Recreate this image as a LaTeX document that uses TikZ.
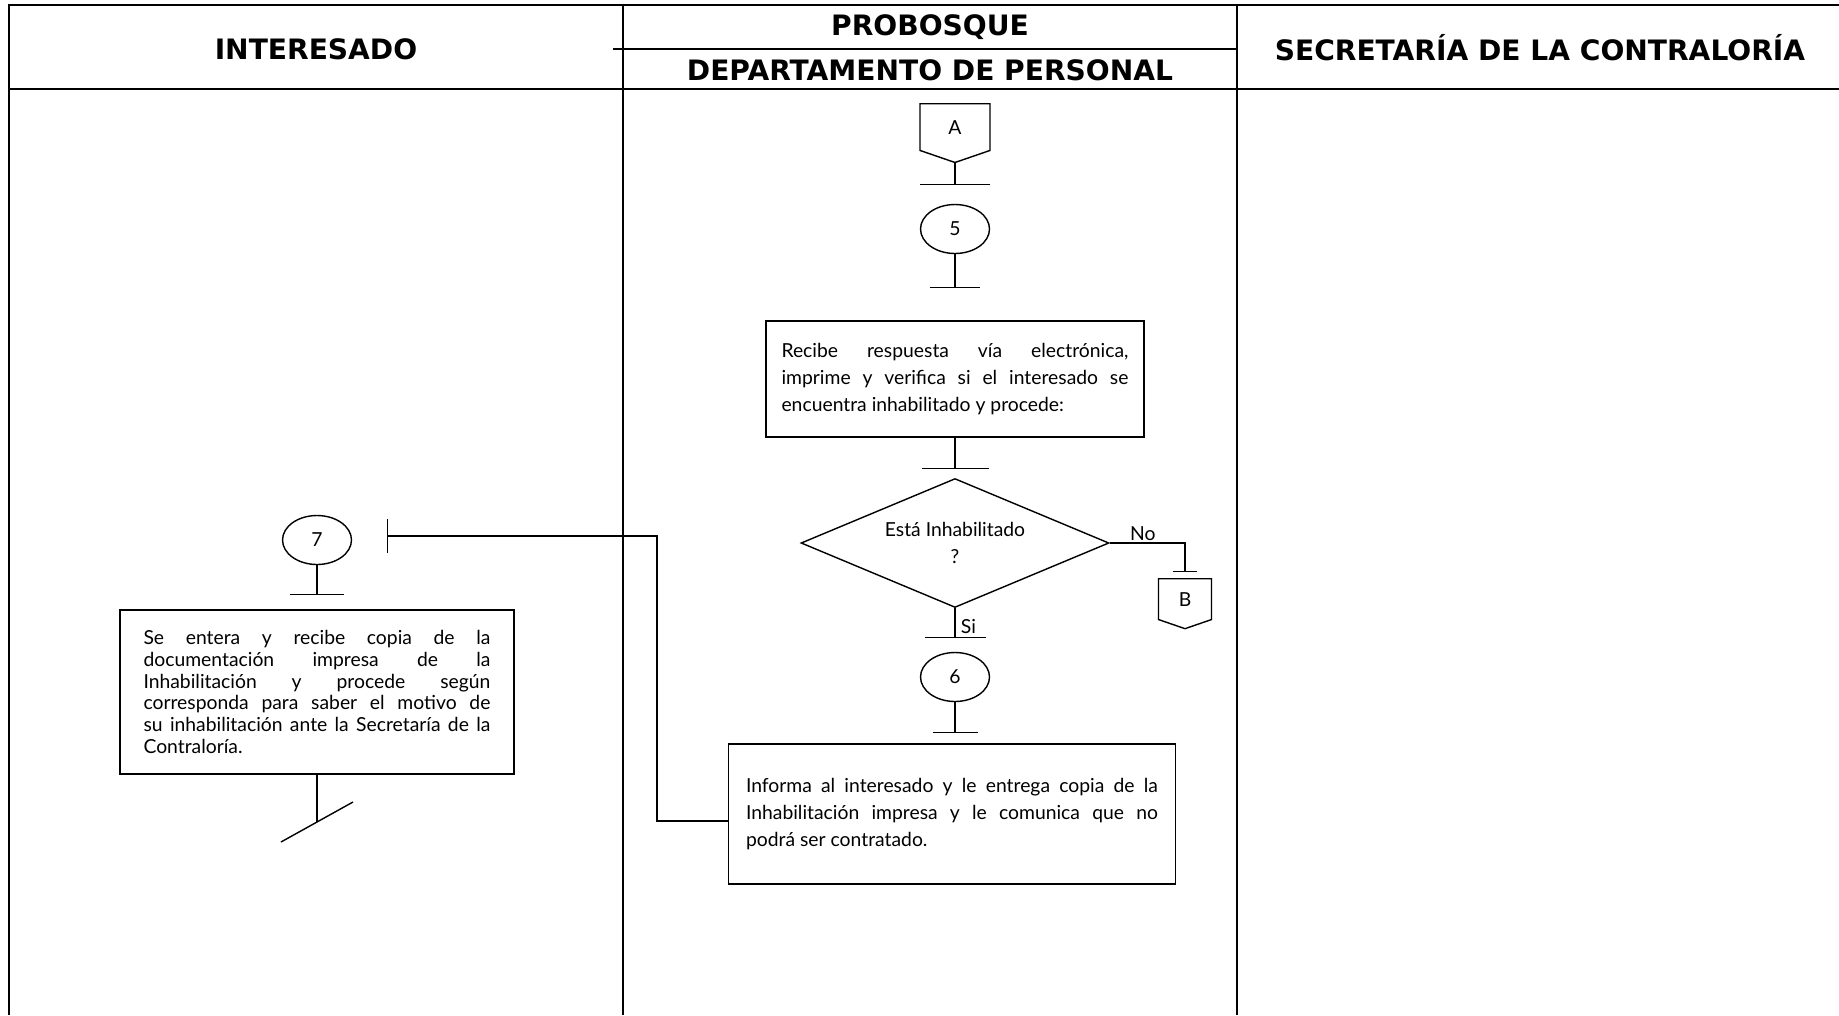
\documentclass[tikz,border=0pt]{standalone}
\usepackage{fontspec}
\setmainfont{Lato}
\newfontfamily\headfont{DejaVu Sans}
\usetikzlibrary{shapes.geometric, shapes.symbols, arrows.meta, positioning, calc}
\tikzset{
    font=\fontsize{11}{15.5}\selectfont,
    % Lines
    lane/.style={line width=1.3pt, black},
    flow/.style={line width=0.8pt, black},
    tbar/.style={flow, -{Bar[width=#1, line width=0.8pt]}},
    tbar/.default=1.2cm,
    % Shapes
    proc/.style={rectangle, draw, line width=0.8pt, align=justify, inner sep=0pt},
    decision/.style={diamond, draw, line width=0.8pt, aspect=2.39, align=center,
                     minimum width=6.16cm, minimum height=2.58cm, inner sep=1pt},
    stepcirc/.style={ellipse, draw, line width=0.8pt, minimum width=1.38cm,
                     minimum height=0.98cm, inner sep=0pt},
    offpage/.style={signal, signal to=south, signal pointer angle=142, draw,
                    line width=0.8pt, minimum width=1.4cm, minimum height=0.98cm, inner sep=0pt},
    head/.style={font=\headfont\bfseries\fontsize{16}{19}\selectfont, align=center},
    lbl/.style={inner sep=1pt}
}
\begin{document}
\begin{tikzpicture}[x=0.02cm, y=-0.02cm]
\useasboundingbox (0,0) rectangle (1839,1015);

% lanes
\draw[lane] (1839,5) -- (9,5) -- (9,1015);
\draw[lane] (9,89) -- (1839,89);
\draw[lane] (623,5) -- (623,1015);
\draw[lane] (1237,5) -- (1237,1015);
\draw[lane] (613,49) -- (1237,49);

\node[head] (hInt) at (316,49) {INTERESADO};
\node[head] (hPro) at (930,27) {PROBOSQUE};
\node[head] (hDep) at (930,70) {DEPARTAMENTO DE PERSONAL};
\node[head] (hSec) at (1540,48) {SECRETARÍA DE LA CONTRALORÍA};

% departamento de personal
\node[offpage, anchor=north] (conA) at (955,103) {A};
\coordinate (barA) at (955,185);
\node[stepcirc] (s5) at (955,229) {5};
\coordinate (bar5) at (955,288);
\node[proc, minimum width=7.56cm, minimum height=2.32cm, text width=6.94cm] (recibe) at (955,379)
    {Recibe respuesta vía electrónica,\linebreak imprime y verifica si el interesado se\linebreak encuentra inhabilitado y procede:};
\coordinate (barR) at (955,469);
\node[decision] (inhab) at (955,543) {Está Inhabilitado\\?};
\coordinate (barNo) at (1185,572);
\node[offpage, anchor=north, minimum width=1.06cm, minimum height=0.86cm] (conB) at (1185,578) {B};
\coordinate (barSi) at (955,638);
\node[stepcirc] (s6) at (955,677) {6};
\coordinate (bar6) at (955,733);
\node[proc, minimum width=8.94cm, minimum height=2.8cm, text width=8.24cm] (informa) at (952,814)
    {Informa al interesado y le entrega copia de la\linebreak Inhabilitación impresa y le comunica que no\linebreak podrá ser contratado.};

% interesado
\coordinate (bar7) at (387,536);
\node[stepcirc] (s7) at (317,540) {7};
\coordinate (bar7b) at (317,595);
\node[proc, minimum width=7.88cm, minimum height=3.28cm, text width=6.94cm,
      font=\fontsize{11}{12.4}\selectfont] (entera) at (317,692)
    {Se entera y recibe copia de la\linebreak documentación impresa de la\linebreak Inhabilitación y procede según\linebreak corresponda para saber el motivo de\linebreak su inhabilitación ante la Secretaría de la\linebreak Contraloría.};
\coordinate (fin) at (317,822);

\draw[tbar=1.4cm] (conA.south) -- (barA);
\draw[tbar=1cm] (s5) -- (bar5);
\draw[tbar=1.34cm] (recibe) -- (barR);
\draw[tbar=0.48cm] (inhab.east) -| node[lbl, above, pos=0.22] {No} (barNo);
\draw[tbar=1.22cm] (inhab.south) -- node[lbl, right, pos=0.6, xshift=2pt] {Si} (barSi);
\draw[tbar=0.9cm] (s6) -- (bar6);
\draw[tbar=0.68cm] ([yshift=-0.14cm]informa.west) -- ++(-71,0) |- (bar7);
\draw[tbar=1.08cm] (s7) -- (bar7b);
\draw[flow] (entera) -- (fin);
\draw[flow] ([shift={(-36,20)}]fin) -- ([shift={(36,-20)}]fin);

\end{tikzpicture}
\end{document}
